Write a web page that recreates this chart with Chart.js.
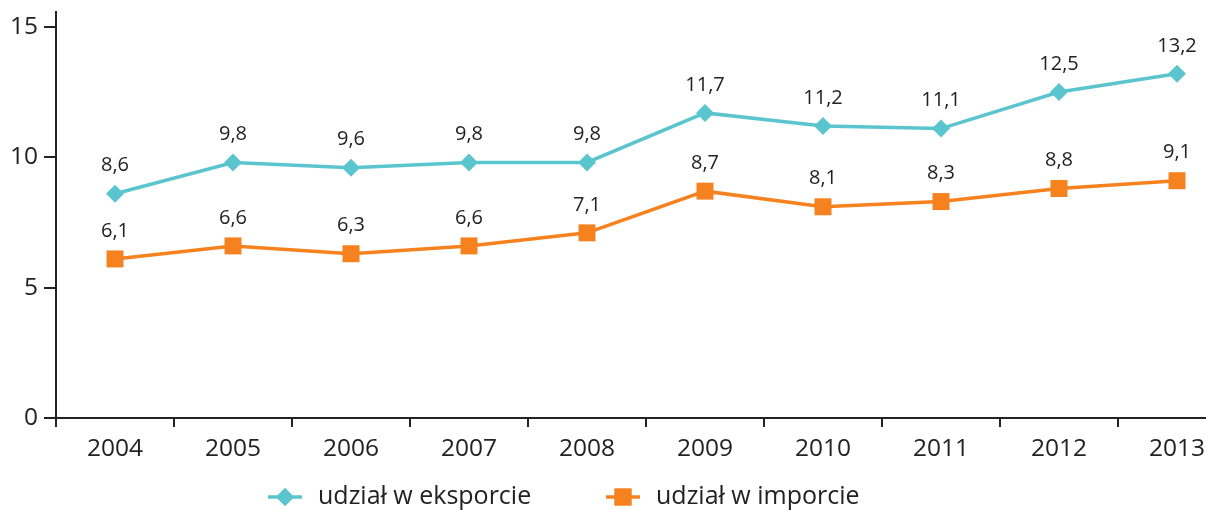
<!DOCTYPE html>
<html>
<head>
<meta charset="utf-8">
<script src="https://cdn.jsdelivr.net/npm/chart.js@4"></script>
<style>
  html, body { margin: 0; padding: 0; background: #fff; overflow: hidden; }
  #wrap { width: 1206px; height: 510px; overflow: hidden; position: relative; }
  #chart { display: block; }
</style>
</head>
<body>
<div id="wrap"><canvas id="chart" width="1248" height="510"></canvas></div>
<script>
const lata = ["2004", "2005", "2006", "2007", "2008", "2009", "2010", "2011", "2012", "2013"];
const eksport = [8.6, 9.8, 9.6, 9.8, 9.8, 11.7, 11.2, 11.1, 12.5, 13.2];
const importy = [6.1, 6.6, 6.3, 6.6, 7.1, 8.7, 8.1, 8.3, 8.8, 9.1];
const yTicki = [0, 5, 10, 15];

const FONT = '"Open Sans", "DejaVu Sans", sans-serif';
const TEAL = '#5bc5cf';
const ORANGE = '#f5821f';
const INK = '#222222';

// etykiety wartosci nad punktami
const etykiety = {
    id: 'etykiety',
    afterDatasetsDraw(chart) {
        const ctx = chart.ctx;
        ctx.save();
        ctx.font = '20px ' + FONT;
        ctx.fillStyle = INK;
        ctx.textAlign = 'center';
        ctx.textBaseline = 'middle';
        chart.data.datasets.forEach((ds, i) => {
            chart.getDatasetMeta(i).data.forEach((pt, j) => {
                ctx.fillText(String(ds.data[j]).replace('.', ','), pt.x, pt.y - 28);
            });
        });
        ctx.restore();
    }
};

// legenda pod wykresem
const legenda = {
    id: 'legenda',
    afterDraw(chart) {
        const ctx = chart.ctx;
        const y = 497;
        const pozycje = [268, 606];
        ctx.save();
        chart.data.datasets.forEach((ds, i) => {
            const x0 = pozycje[i];
            ctx.strokeStyle = ds.borderColor;
            ctx.lineWidth = 3.5;
            ctx.beginPath();
            ctx.moveTo(x0, y);
            ctx.lineTo(x0 + 34, y);
            ctx.stroke();
            ctx.fillStyle = ds.pointBackgroundColor;
            Chart.helpers.drawPoint(ctx, {
                pointStyle: ds.pointStyle,
                radius: ds.pointRadius,
                rotation: 0,
                borderWidth: 0
            }, x0 + 17, y);
            ctx.fill();
            ctx.font = '25px ' + FONT;
            ctx.fillStyle = INK;
            ctx.textAlign = 'left';
            ctx.textBaseline = 'middle';
            ctx.fillText(ds.label, x0 + 50, y);
        });
        ctx.restore();
    }
};

function bezMarginesow(scale) {
    scale.paddingTop = 0;
    scale.paddingBottom = 0;
    scale.paddingLeft = 0;
    scale.paddingRight = 0;
}

new Chart(document.getElementById('chart'), {
    type: 'line',
    data: {
        labels: lata,
        datasets: [
            {
                label: 'udział w eksporcie',
                data: eksport,
                borderColor: TEAL,
                backgroundColor: TEAL,
                pointBackgroundColor: TEAL,
                pointBorderColor: TEAL,
                pointStyle: 'rectRot',
                pointRadius: 9,
                pointBorderWidth: 0,
                borderWidth: 3.5,
                tension: 0
            },
            {
                label: 'udział w imporcie',
                data: importy,
                borderColor: ORANGE,
                backgroundColor: ORANGE,
                pointBackgroundColor: ORANGE,
                pointBorderColor: ORANGE,
                pointStyle: 'rect',
                pointRadius: 12,
                pointBorderWidth: 0,
                borderWidth: 3.5,
                tension: 0
            }
        ]
    },
    options: {
        responsive: false,
        animation: false,
        layout: { autoPadding: false, padding: { top: 12, right: 12, left: 0, bottom: 0 } },
        plugins: {
            legend: { display: false },
            tooltip: { enabled: false }
        },
        scales: {
            x: {
                offset: true,
                grid: {
                    offset: true,
                    drawOnChartArea: false,
                    drawTicks: true,
                    tickLength: 9,
                    color: INK,
                    lineWidth: 2
                },
                border: { color: INK, width: 2 },
                ticks: {
                    color: INK,
                    font: { family: FONT, size: 24.5 },
                    padding: 7,
                    maxRotation: 0,
                    autoSkip: false
                },
                afterFit(scale) { scale.height = 92; bezMarginesow(scale); }
            },
            y: {
                min: 0,
                max: 15.57,
                grid: {
                    drawOnChartArea: false,
                    drawTicks: true,
                    tickLength: 12,
                    color: INK,
                    lineWidth: 2
                },
                border: { color: INK, width: 2 },
                ticks: {
                    color: INK,
                    font: { family: FONT, size: 24.5 },
                    padding: 6
                },
                afterBuildTicks(scale) {
                    scale.ticks = yTicki.map(v => ({ value: v }));
                },
                afterFit(scale) { scale.width = 56; bezMarginesow(scale); }
            }
        }
    },
    plugins: [etykiety, legenda]
});
</script>
</body>
</html>
